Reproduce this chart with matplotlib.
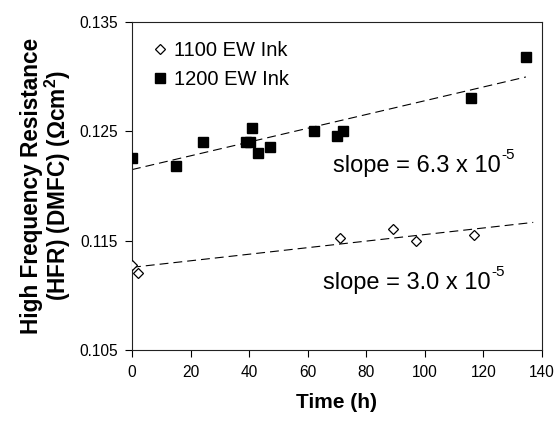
import numpy as np
import matplotlib
matplotlib.use("Agg")
import matplotlib.pyplot as plt

plt.rcParams['font.family'] = ['Liberation Sans', 'DejaVu Sans']
plt.rcParams['mathtext.fontset'] = 'custom'
plt.rcParams['mathtext.rm'] = 'Liberation Sans'
plt.rcParams['mathtext.bf'] = 'Liberation Sans:bold'

# 1100 EW ink (open diamonds)
time_1100 = [0, 2.1, 71, 89, 97, 116.8]
hfr_1100 = [0.11277, 0.11201, 0.11527, 0.11603, 0.11499, 0.11551]

# 1200 EW ink (filled squares)
time_1200 = [0, 15, 24.1, 38.9, 40.3, 41, 42.9, 47, 62, 70, 71.9, 115.8, 134.5]
hfr_1200 = [0.12253, 0.12183, 0.12405, 0.12405, 0.12405, 0.12533, 0.12304,
            0.12356, 0.12503, 0.12457, 0.12503, 0.12807, 0.13183]

# linear trend lines (intercept, slope, time span)
fit_1100 = {'a': 0.11256, 'b': 3.0e-5, 't': [0, 137]}
fit_1200 = {'a': 0.1215, 'b': 6.3e-5, 't': [0, 134.5]}

# slope annotations: (x, y baseline, mantissa text)
slope_labels = [(68.6, 0.12125, 'slope = 6.3 x 10'),
                (65.3, 0.11062, 'slope = 3.0 x 10')]

fig = plt.figure(figsize=(5.59, 4.25), dpi=100)
ax = fig.add_axes([0.2361, 0.1765, 0.7335, 0.7717])

ax.plot(time_1100, hfr_1100, linestyle='none', marker='D', markersize=5.2,
        markerfacecolor='white', markeredgecolor='black', markeredgewidth=0.9,
        label='1100 EW Ink', zorder=3)
ax.plot(time_1200, hfr_1200, linestyle='none', marker='s', markersize=7.2,
        color='black', label='1200 EW Ink', zorder=3)

for fit in (fit_1100, fit_1200):
    t = np.array(fit['t'])
    ax.plot(t, fit['a'] + fit['b'] * t, color='black', linewidth=0.8,
            dashes=(8, 4.5), zorder=2)

# main text plus a small "-5" exponent with a plain hyphen
for x, y, txt in slope_labels:
    main = ax.text(x, y, txt, fontsize=17, va='baseline', ha='left')
    ax.annotate('-5', xy=(1.0, 1.0), xycoords=main, xytext=(0.3, 5),
                textcoords='offset points', fontsize=11, va='top', ha='left')

ax.set_xlim(0, 140)
ax.set_ylim(0.105, 0.135)
ax.set_xticks(np.arange(0, 141, 20))
ax.set_yticks([0.105, 0.115, 0.125, 0.135])
ax.set_yticklabels(['0.105', '0.115', '0.125', '0.135'])
ax.tick_params(direction='out', length=5, width=0.8, labelsize=11.2)
ax.tick_params(axis='x', pad=6)
ax.tick_params(axis='y', pad=5)
for s in ax.spines.values():
    s.set_linewidth(0.8)
    s.set_color('#222222')

ax.set_xlabel('Time (h)', fontsize=15, fontweight='bold', labelpad=9)
ax.set_ylabel('High Frequency Resistance\n(HFR) (DMFC) (Ωcm$^{\\mathbf{2}}$)',
              fontsize=16.3, fontweight='bold', labelpad=5, linespacing=0.95)

ax.legend(loc='upper left', bbox_to_anchor=(0.02, 0.985), frameon=False,
          fontsize=14.5, handlelength=0.6, handletextpad=0.4, labelspacing=0.5,
          borderaxespad=0.3)

fig.savefig('out.png', dpi=100)
